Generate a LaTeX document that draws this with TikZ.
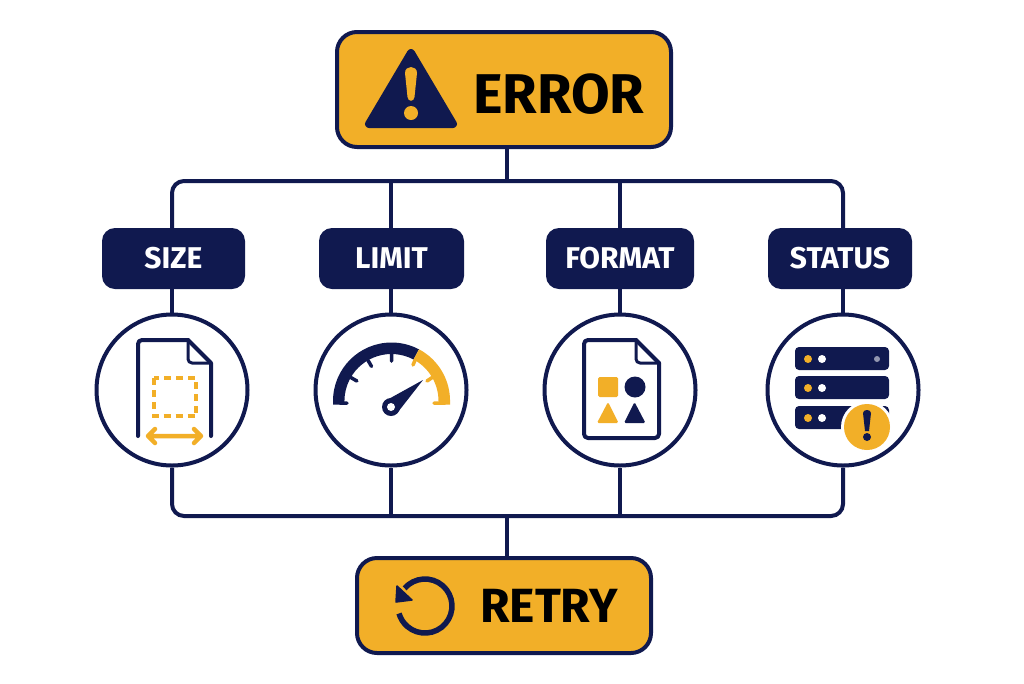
\documentclass[tikz,border=0pt]{standalone}
\usepackage{fontspec}
\setmainfont{Fira Sans}
\definecolor{navy}{HTML}{10194F}
\definecolor{amber}{HTML}{F2AF28}
\pgfdeclarelayer{bg}
\pgfsetlayers{bg,main}
\tikzset{
  bigbox/.style={draw=navy,line width=4pt,fill=amber,rounded corners=20pt,inner sep=0pt},
  tagbox/.style={fill=navy,rounded corners=13pt,text=white,inner sep=0pt,font=\fontsize{30}{30}\selectfont\bfseries},
  ring/.style={circle,draw=navy,line width=4pt,fill=white,minimum size=151pt,inner sep=0pt},
  link/.style={draw=navy,line width=4pt},
  busline/.style={draw=navy,line width=4pt,rounded corners=12pt},
  docline/.style={draw=navy,line width=4pt,line join=round,line cap=round},
  bigtext/.style={text=black,inner sep=0pt,font=\fontsize{#1}{#1}\selectfont\bfseries}
}
\begin{document}
\begin{tikzpicture}[x=1pt,y=-1pt]
\useasboundingbox (0,0) rectangle (1024,683);
% junctions
\coordinate (topstem) at (507,181);
\coordinate (botstem) at (507,516);
\coordinate (tl) at (172,181); \coordinate (tr) at (843,181);
\coordinate (tb) at (391,181); \coordinate (tc) at (620,181);
\coordinate (bl) at (172,516); \coordinate (br) at (843,516);
\coordinate (bb) at (391,516); \coordinate (bc) at (620,516);
% nodes
\node[bigbox,minimum width=334pt,minimum height=115pt] (error) at (504,89.5) {};
\node[bigbox,minimum width=294pt,minimum height=95pt] (retry) at (504,605.5) {};
\node[tagbox,minimum width=143pt,minimum height=61pt] (size) at (173.5,258.5) {SIZE};
\node[tagbox,minimum width=145pt,minimum height=61pt] (limit) at (391.5,258.5) {LIMIT};
\node[tagbox,minimum width=148pt,minimum height=61pt] (format) at (620,258.5) {FORMAT};
\node[tagbox,minimum width=144pt,minimum height=61pt] (status) at (840,258.5) {STATUS};
\node[ring] (c1) at (172,390) {};
\node[ring] (c2) at (391,390) {};
\node[ring] (c3) at (620,390) {};
\node[ring] (c4) at (843,390) {};
% connectors
\begin{pgfonlayer}{bg}
\fill[white] (0,0) rectangle (1024,683);
\draw[busline] (size.north -| tl) -- (tl) -- (tr) -- (status.north -| tr);
\draw[busline] (c1.south) -- (bl) -- (br) -- (c4.south);
\draw[link] (error.south -| topstem) -- (topstem);
\draw[link] (botstem) -- (retry.north -| botstem);
\draw[link] (tb) -- (limit.north -| tb);
\draw[link] (tc) -- (format.north -| tc);
\draw[link] (bb) -- (c2.south);
\draw[link] (bc) -- (c3.south);
\draw[link] (size.south -| c1) -- (c1.north);
\draw[link] (limit.south -| c2) -- (c2.north);
\draw[link] (format.south -| c3) -- (c3.north);
\draw[link] (status.south -| c4) -- (c4.north);
\end{pgfonlayer}
% error text and icon
\node[bigtext=56,anchor=west] (errtxt) at (473,94) {ERROR};
\fill[navy,draw=navy,line width=8pt,line join=round] (411,53) -- (369,124) -- (453,124) -- cycle;
\fill[amber] (405,73) .. controls (405,65) and (417,65) .. (417,73) -- (414.5,97) .. controls (414,102) and (408,102) .. (407.5,97) -- cycle;
\fill[amber] (411,113) circle (7);
% retry text and icon
\node[bigtext=48,anchor=west] (rettxt) at (480,606) {RETRY};
\draw[navy,line width=5.5pt] (404.6,588.3) arc[start angle=-139,end angle=164,radius=27];
\fill[navy,draw=navy,line width=1.5pt,line join=round] (397,586) -- (412,600) -- (396,602) -- cycle;
% size icon
\draw[docline,rounded corners=4pt] (138,436) -- (138,340) -- (188,340);
\draw[docline] (188,340) -- (211,363) -- (211,436);
\draw[docline,line width=3pt,rounded corners=4pt] (188,340) -- (188,363) -- (211,363);
\draw[amber,line width=4pt,dash pattern=on 7pt off 5pt] (153.5,378) rectangle (196,416);
\draw[amber,line width=4.5pt,line cap=round,line join=round] (149,436) -- (200,436) (155,429) -- (148,436) -- (155,443) (194,429) -- (201,436) -- (194,443);
% gauge icon
\fill[navy] (333,404.5) -- (333,401) arc[start angle=-180,end angle=-62,radius=58.5] -- (413.5,359.5) arc[start angle=-62,end angle=-180,radius=47] -- (344.5,404.5) -- cycle;
\fill[amber] (419,349.3) arc[start angle=-62,end angle=0,radius=58.5] -- (450,404.5) -- (438.5,404.5) -- (438.5,401) arc[start angle=0,end angle=-62,radius=47] -- cycle;
\draw[navy,line width=3.5pt,line cap=round] (340,403) -- (347,403) (350.8,377.5) -- (356.9,381) (368,360.3) -- (371.5,366.4) (391.5,354) -- (391.5,361);
\draw[amber,line width=3.5pt,line cap=round] (415,360.3) -- (413,365) (432.2,377.5) -- (427,381) (445,403) -- (434,403);
\fill[navy] (423,380) -- (398,412) -- (385,401) -- cycle;
\fill[navy] (391,407) circle (9);
\fill[white] (391,407) circle (4);
% format icon
\draw[docline,rounded corners=4pt] (636,340) -- (584,340) -- (584,438) -- (659,438) -- (659,363);
\draw[docline] (636,340) -- (659,363);
\draw[docline,line width=3pt,rounded corners=4pt] (636,340) -- (636,363) -- (659,363);
\fill[amber,rounded corners=1.5pt] (598,377) rectangle (618,397);
\fill[navy] (635,387) circle (10.5);
\fill[amber,rounded corners=1.5pt] (608,402) -- (597,423) -- (618.5,423) -- cycle;
\fill[navy,rounded corners=1.5pt] (634.5,402) -- (624,423) -- (645.5,423) -- cycle;
% status icon
\fill[navy,rounded corners=4pt] (795,347) rectangle (889,370);
\fill[navy,rounded corners=4pt] (795,376) rectangle (889,399);
\fill[navy,rounded corners=4pt] (795,406) rectangle (889,429);
\foreach \yy in {359,388,418}{
  \fill[amber] (808,\yy) circle (4);
  \fill[white] (822,\yy) circle (4);
}
\fill[white!55!navy] (877,359) circle (3);
\fill[white] (867,427) circle (26);
\fill[amber] (867,427) circle (23);
\fill[navy] (863,413) .. controls (863,409) and (871,409) .. (871,413) -- (869,431) -- (865,431) -- cycle;
\fill[navy] (867,437) circle (4);
\end{tikzpicture}
\end{document}
